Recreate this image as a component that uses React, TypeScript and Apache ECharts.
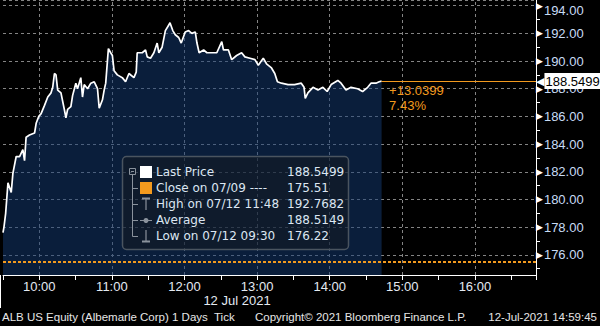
import React, { useEffect, useRef } from "react";
import * as echarts from "echarts";

// time in minutes since midnight (09:30 = 570)
const times = [
  570.0, 570.8, 572.2, 574.1, 576.8, 578.2, 580.9, 583.7, 586.4, 587.8, 589.1, 591.9, 596.1, 597.4,
  599.6, 601.5, 604.3, 607.0, 609.7, 611.1, 612.5, 613.8, 615.2, 617.9, 620.7, 622.0, 623.4, 626.1,
  627.5, 630.2, 631.6, 634.3, 635.7, 637.1, 639.9, 642.6, 645.4, 648.1, 649.5, 652.2, 653.6, 654.9,
  657.1, 659.0, 660.4, 661.8, 664.5, 668.6, 671.3, 674.1, 678.2, 680.1, 680.9, 685.1, 687.8, 689.2,
  691.9, 694.7, 697.4, 698.8, 701.5, 704.2, 707.0, 708.0, 710.3, 712.4, 715.2, 717.3, 720.6, 723.4,
  726.1, 728.9, 730.3, 732.1, 735.8, 738.5, 742.6, 746.7, 750.8, 752.2, 756.3, 759.0, 763.1, 767.2,
  769.9, 774.1, 778.2, 781.0, 785.1, 787.8, 791.9, 794.6, 796.8, 800.1, 805.6, 811.0, 816.5, 818.8,
  819.8, 822.0, 826.2, 830.3, 834.4, 837.9, 841.2, 846.7, 849.4, 853.5, 857.6, 863.1, 867.2, 871.4,
  874.1, 878.2, 880.9, 882.9,
];
const prices = [
  177.6, 178.0, 179.0, 181.2, 180.5, 181.9, 183.1, 183.1, 183.6, 182.8, 184.5, 184.65, 184.8, 185.5,
  186.0, 186.2, 186.8, 187.4, 187.7, 188.1, 189.1, 189.0, 187.9, 187.7, 186.5, 185.9, 186.5, 186.7,
  187.5, 188.4, 188.0, 188.8, 187.4, 188.3, 188.0, 188.4, 188.5, 188.0, 186.6, 187.2, 187.9, 188.4,
  190.9, 190.6, 190.4, 189.3, 189.0, 188.8, 188.5, 189.1, 188.8, 189.2, 190.6, 190.6, 190.8, 190.3,
  190.2, 190.6, 191.3, 190.6, 191.0, 192.2, 192.6, 192.7682, 192.2, 191.9, 191.7, 191.3, 192.1, 192.2,
  192.0, 192.1, 191.3, 190.6, 190.8, 190.6, 190.6, 190.6, 191.4, 190.8, 190.8, 190.1, 190.4, 190.6,
  190.3, 190.2, 190.1, 189.7, 190.2, 189.8, 189.5, 189.1, 188.5, 188.4, 188.3, 188.3, 188.4, 188.1,
  187.3, 187.7, 188.1, 187.9, 188.1, 187.8, 188.3, 188.6, 188.4, 187.9, 188.1, 188.0, 187.8, 188.1,
  188.4, 188.4, 188.5, 188.5499,
];

const prevClose = 175.51;
const highLabel = "High on 07/12 11:48";
const highValue = "192.7682";
const averageValue = "188.5149";
const lowLabel = "Low on 07/12 09:30";
const lowValue = "176.22";
const hourLines = [600, 660, 720, 780, 840, 900, 960];
const xMin = 570;
const xMax = 1010.5;
const yMin = 174.54;
const yMax = 194.41;

const ORANGE = "#f39a1e";
const AXIS_FONT = "'Liberation Sans', Arial, sans-serif";
const LEG_FONT = "'DejaVu Sans', sans-serif";

export default function App() {
  const ref = useRef<HTMLDivElement>(null);
  useEffect(() => {
    if (!ref.current) return;
    const chart = echarts.init(ref.current, undefined, { renderer: "svg" });
    const data = times.map((t, i) => [t, prices[i]]);
    const lastT = times[times.length - 1];
    const lastP = prices[prices.length - 1];
    const chg = lastP - prevClose;
    const pct = (chg / prevClose) * 100;
    const grid = "#848484";
    const legendText = "#dce6f2";
    const iconGrey = "#8a929c";
    const rowY = [172, 188, 204, 220, 236];
    const labels = ["Last Price", "Close on 07/09 ---- ", highLabel, "Average", lowLabel];
    const values = [lastP.toFixed(4), prevClose.toFixed(2), highValue, averageValue, lowValue];
    const Z = 20;

    const legendChildren: any[] = [
      {
        type: "rect",
        z: Z,
        shape: { x: 122.5, y: 156.5, width: 226, height: 93, r: 4 },
        style: { fill: "rgba(20,24,30,0.5)", stroke: "#4a545f", lineWidth: 1.5 },
      },
      { type: "rect", z: Z, shape: { x: 129.5, y: 168.5, width: 6, height: 6 }, style: { fill: "none", stroke: iconGrey, lineWidth: 1 } },
      { type: "line", z: Z, shape: { x1: 131, y1: 171.5, x2: 134, y2: 171.5 }, style: { stroke: iconGrey, lineWidth: 1 } },
      { type: "line", z: Z, shape: { x1: 132.5, y1: 175, x2: 132.5, y2: 236.5 }, style: { stroke: iconGrey, lineWidth: 1 } },
      ...rowY.slice(1).map((y) => ({
        type: "line",
        z: Z,
        shape: { x1: 132.5, y1: y + 0.5, x2: 138, y2: y + 0.5 },
        style: { stroke: iconGrey, lineWidth: 1 },
      })),
      { type: "rect", z: Z, shape: { x: 140, y: 166, width: 12, height: 12 }, style: { fill: "#ffffff" } },
      { type: "rect", z: Z, shape: { x: 140, y: 182, width: 12, height: 12 }, style: { fill: ORANGE } },
      { type: "line", z: Z, shape: { x1: 142, y1: 198.5, x2: 150, y2: 198.5 }, style: { stroke: iconGrey, lineWidth: 2 } },
      { type: "line", z: Z, shape: { x1: 146, y1: 198, x2: 146, y2: 210 }, style: { stroke: iconGrey, lineWidth: 1.2 } },
      { type: "line", z: Z, shape: { x1: 140, y1: 220.5, x2: 152, y2: 220.5 }, style: { stroke: iconGrey, lineWidth: 1 } },
      { type: "circle", z: Z, shape: { cx: 146, cy: 220.5, r: 2.5 }, style: { fill: iconGrey } },
      { type: "line", z: Z, shape: { x1: 146, y1: 230, x2: 146, y2: 242 }, style: { stroke: iconGrey, lineWidth: 1.2 } },
      { type: "line", z: Z, shape: { x1: 142, y1: 241.5, x2: 150, y2: 241.5 }, style: { stroke: iconGrey, lineWidth: 2 } },
      ...labels.map((t, i) => ({
        type: "text",
        z: Z,
        x: 156,
        y: rowY[i],
        style: { text: t, fill: legendText, font: `12px ${LEG_FONT}`, verticalAlign: "middle", align: "left" },
      })),
      ...values.map((t, i) => ({
        type: "text",
        z: Z,
        x: 287,
        y: rowY[i],
        style: { text: t, fill: legendText, font: `12px ${LEG_FONT}`, verticalAlign: "middle", align: "left" },
      })),
    ];

    const isEven = (v: number) => Math.abs(v - Math.round(v / 2) * 2) < 1e-6;
    const topTick = Math.floor(yMax / 2) * 2;

    chart.setOption({
      animation: false,
      backgroundColor: "#000000",
      grid: { left: 0, right: 64, top: 0, bottom: 51, containLabel: false },
      xAxis: {
        type: "value",
        min: xMin,
        max: xMax,
        interval: 30,
        axisLine: { show: true, lineStyle: { color: "#ffffff", width: 1 } },
        axisTick: { show: true, length: 5, lineStyle: { color: "#ffffff" } },
        axisLabel: {
          margin: 5,
          color: "#e4eaf2",
          fontSize: 13,
          fontFamily: AXIS_FONT,
          formatter: (v: number) => (Math.abs(v % 60) < 1e-6 ? `${Math.floor(v / 60)}:00` : ""),
        },
        splitLine: { show: false },
      },
      yAxis: {
        type: "value",
        position: "right",
        min: yMin,
        max: yMax,
        splitNumber: 10,
        axisLine: { show: true, lineStyle: { color: "#ffffff", width: 1 } },
        axisTick: { show: false },
        minorTick: { show: true, splitNumber: 2, length: 4, lineStyle: { color: "#ffffff" } },
        axisLabel: {
          margin: 0,
          showMinLabel: false,
          showMaxLabel: true,
          formatter: (v: number) => {
            if (!isEven(v)) return "";
            if (Math.abs(v - topTick) < 1e-6) return `{a|▶}{c|${v.toFixed(2)}}`;
            return `{a|▶}{b|${v.toFixed(2)}}`;
          },
          rich: {
            a: { color: "#ffffff", fontSize: 9, padding: [0, 1, 0, 0], fontFamily: LEG_FONT },
            b: { color: "#c8dcf5", fontSize: 13, fontFamily: AXIS_FONT },
            c: { color: "#c8dcf5", fontSize: 13, fontFamily: AXIS_FONT, padding: [9, 0, 0, 0] },
          },
        },
        splitLine: { show: true, lineStyle: { color: grid, type: [3, 3], width: 1 } },
      },
      series: [
        {
          type: "line",
          data: [],
          z: 1,
          markLine: {
            silent: true,
            z: 1,
            symbol: ["none", "none"],
            animation: false,
            label: { show: false },
            lineStyle: { color: grid, type: [3, 3], width: 1 },
            data: hourLines.map((h) => ({ xAxis: h })),
          },
        },
        {
          type: "line",
          data,
          showSymbol: false,
          z: 2,
          lineStyle: { color: "#ffffff", width: 1.7 },
          areaStyle: { color: "#143c76", opacity: 0.5, origin: "start" },
          markLine: {
            silent: true,
            symbol: ["none", "none"],
            animation: false,
            data: [
              {
                yAxis: prevClose,
                lineStyle: { color: ORANGE, type: [3, 2], width: 2 },
                label: { show: false },
              },
              [
                {
                  coord: [lastT, lastP],
                  lineStyle: { color: ORANGE, type: "solid", width: 1 },
                  label: {
                    show: true,
                    position: "end",
                    distance: 0,
                    formatter: `{a|◀}{b|${lastP.toFixed(4)}}`,
                    rich: {
                      a: { color: "#ffffff", fontSize: 11, fontFamily: LEG_FONT },
                      b: {
                        color: "#000000",
                        backgroundColor: "#ffffff",
                        fontSize: 13,
                        fontFamily: AXIS_FONT,
                        padding: [2, 2, 1, 1],
                      },
                    },
                  },
                },
                { coord: [xMax, lastP] },
              ],
            ],
          },
          markPoint: {
            silent: true,
            symbol: "circle",
            symbolSize: 1,
            itemStyle: { color: "rgba(0,0,0,0)" },
            data: [
              {
                coord: [lastT, lastP],
                label: {
                  show: true,
                  position: [8, 2],
                  align: "left",
                  verticalAlign: "top",
                  color: ORANGE,
                  fontSize: 13,
                  lineHeight: 15,
                  fontFamily: AXIS_FONT,
                  formatter: `+${chg.toFixed(4)}\n${pct.toFixed(2)}%`,
                },
              },
            ],
          },
        },
      ],
      graphic: [
        { type: "group", z: Z, children: legendChildren },
        { type: "line", shape: { x1: 0.5, y1: 275, x2: 0.5, y2: 308 }, style: { stroke: "#ffffff", lineWidth: 1 } },
        {
          type: "text",
          x: 237,
          y: 300,
          style: { text: "12 Jul 2021", fill: "#e4eaf2", font: `13px ${AXIS_FONT}`, align: "center", verticalAlign: "middle" },
        },
        {
          type: "text",
          x: 2,
          y: 317,
          style: { text: "ALB US Equity (Albemarle Corp) 1 Days  Tick", fill: "#e6e6e6", font: `11.5px ${AXIS_FONT}`, align: "left", verticalAlign: "middle" },
        },
        {
          type: "text",
          x: 255,
          y: 317,
          style: { text: "Copyright© 2021 Bloomberg Finance L.P.", fill: "#e6e6e6", font: `11.5px ${AXIS_FONT}`, align: "left", verticalAlign: "middle" },
        },
        {
          type: "text",
          x: 597,
          y: 317,
          style: { text: "12-Jul-2021 14:59:45", fill: "#e6e6e6", font: `11.5px ${AXIS_FONT}`, align: "right", verticalAlign: "middle" },
        },
      ],
    });
    return () => chart.dispose();
  }, []);
  return (
    <div
      ref={ref}
      style={{ position: "absolute", left: 0, top: 0, width: 600, height: 326, background: "#000" }}
    />
  );
}
